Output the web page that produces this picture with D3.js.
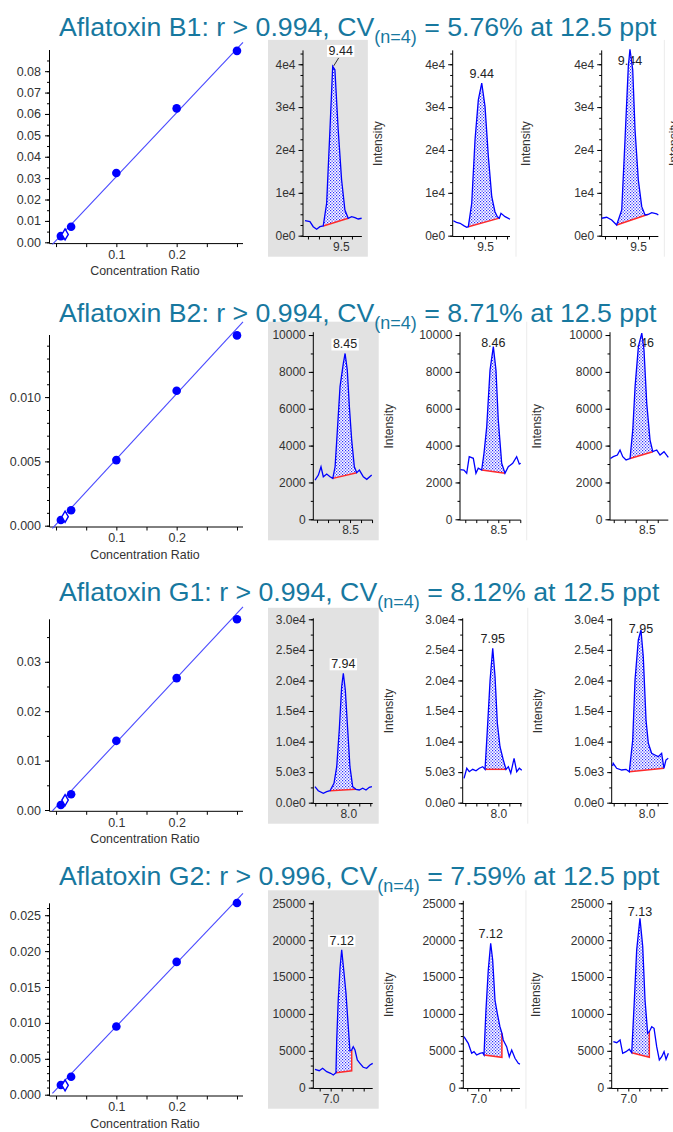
<!DOCTYPE html>
<html>
<head>
<meta charset="utf-8">
<script src="https://cdn.jsdelivr.net/npm/d3@7"></script>
<style>
body { margin: 0; background: #fff; }
svg text { font-family: "Liberation Sans", Arial, sans-serif; }
</style>
</head>
<body>
<svg id="chart" width="673" height="1132"></svg>
<script>
// ---- data ----
var compounds = ["B1", "B2", "G1", "G2"];
var rValues = ["0.994", "0.994", "0.994", "0.996"];
var cvValues = ["5.76%", "8.71%", "8.12%", "7.59%"];
var spikeLevel = "12.5 ppt";

// calibration: concentration ratio vs area ratio
var calConc = [0.008, 0.025, 0.1, 0.2, 0.3];
var calRespB1 = [0.0029, 0.0073, 0.0324, 0.0626, 0.0895];
var calRespB2 = [0.00044, 0.0012, 0.0051, 0.0105, 0.0148];
var calRespG1 = [0.0010, 0.0032, 0.0140, 0.0267, 0.0386];
var calRespG2 = [0.00135, 0.0025, 0.0095, 0.0185, 0.0267];
var qcConc = 0.015;
var qcResp = [0.0037, 0.0007, 0.0020, 0.0013];
var fitSlope = [0.299, 0.0508, 0.1307, 0.0882];
var fitIntercept = [0.0008, 0.0001, 0.0006, 0.0007];
var calYMax = [0.0899, 0.01483, 0.0386, 0.02666];
var calYTicks = [
  [0, 0.01, 0.02, 0.03, 0.04, 0.05, 0.06, 0.07, 0.08],
  [0, 0.005, 0.010],
  [0, 0.01, 0.02, 0.03],
  [0, 0.005, 0.010, 0.015, 0.020, 0.025]
];
var calYDigits = [2, 3, 2, 3];
var calYMinor = [0.005, 0.001, 0.005, 0.001];
var calXTicks = [0, 0.05, 0.1, 0.15, 0.2, 0.25, 0.3];
var calXLabels = [0.1, 0.2];

// chromatograms: [time (min), intensity]
var b1Run1 = [[9.173,3500],[9.218,3270],[9.248,2100],[9.279,1500],[9.309,2100],[9.339,2270],[9.370,7570],[9.400,24700],[9.425,39500],[9.445,38700],[9.475,24700],[9.506,13000],[9.536,6000],[9.566,4070],[9.597,4440],[9.627,4200],[9.657,3900],[9.688,4070]];
var b1Run2 = [[9.212,3500],[9.240,3100],[9.273,2900],[9.310,2300],[9.334,1960],[9.348,2100],[9.379,7570],[9.409,22400],[9.439,31700],[9.470,35600],[9.500,30100],[9.530,18500],[9.561,9100],[9.590,5600],[9.612,4400],[9.630,4100],[9.645,5230],[9.682,4440],[9.727,3830]];
var b1Run3 = [[9.170,4070],[9.215,4300],[9.261,3670],[9.306,2500],[9.352,6000],[9.382,22400],[9.412,39500],[9.427,43500],[9.452,38700],[9.473,24700],[9.503,13000],[9.534,6780],[9.564,4840],[9.594,5000],[9.625,5370],[9.670,5070],[9.685,4840]];
var b2Run1 = [[8.182,2130],[8.212,2400],[8.236,2850],[8.257,2310],[8.288,2460],[8.318,2310],[8.343,2220],[8.364,2850],[8.385,4850],[8.409,7200],[8.439,8460],[8.455,9000],[8.475,8100],[8.494,6110],[8.515,4300],[8.539,2850],[8.561,2530],[8.585,2670],[8.621,2310],[8.652,2170],[8.697,2400]];
var b2Run2 = [[8.155,2700],[8.188,2670],[8.213,2500],[8.236,3400],[8.273,3310],[8.297,2500],[8.318,2770],[8.349,2670],[8.370,3580],[8.395,5020],[8.425,8100],[8.455,9370],[8.479,8100],[8.500,5390],[8.531,3040],[8.561,2500],[8.591,2850],[8.631,3040],[8.667,3400],[8.691,3000],[8.704,3040]];
var b2Run3 = [[8.170,3300],[8.196,3400],[8.233,3490],[8.257,3760],[8.282,3400],[8.312,3220],[8.348,3300],[8.373,4850],[8.394,7200],[8.424,9370],[8.455,10100],[8.475,9190],[8.500,6290],[8.530,4300],[8.555,3670],[8.591,3760],[8.621,3490],[8.657,3670],[8.696,3360]];
var g1Run1 = [[7.697,2620],[7.727,1960],[7.773,1540],[7.804,1800],[7.834,1960],[7.870,3170],[7.895,5890],[7.918,11890],[7.940,18980],[7.955,21170],[7.973,18440],[7.995,11890],[8.015,5890],[8.040,2620],[8.070,2190],[8.100,2080],[8.131,2360],[8.161,2080],[8.191,2520],[8.215,2620]];
var g1Run2 = [[7.688,3990],[7.713,5630],[7.736,5070],[7.767,5460],[7.797,5230],[7.827,5630],[7.858,5890],[7.879,5460],[7.900,11890],[7.925,20070],[7.949,25260],[7.970,20610],[7.991,12990],[8.015,9160],[8.045,6980],[8.070,5460],[8.091,5890],[8.113,4810],[8.143,7260],[8.167,5070],[8.191,5630],[8.213,5300]];
var g1Run3 = [[7.690,6000],[7.696,6440],[7.727,5630],[7.773,5350],[7.812,5460],[7.842,5070],[7.873,10260],[7.894,20070],[7.924,26620],[7.948,28250],[7.969,23890],[7.994,13530],[8.015,9720],[8.045,8080],[8.075,7800],[8.105,7530],[8.136,8080],[8.157,5630],[8.175,6980],[8.196,7260]];
var g2Run1 = [[6.857,2490],[6.896,2300],[6.927,2630],[6.964,2170],[7.000,1950],[7.024,1720],[7.048,2030],[7.055,6500],[7.069,12000],[7.085,16200],[7.100,18700],[7.115,16500],[7.139,12800],[7.160,8270],[7.175,5000],[7.191,5100],[7.205,5560],[7.221,5110],[7.242,3760],[7.266,3310],[7.296,2770],[7.327,2630],[7.357,3080],[7.382,3300]];
var g2Run2 = [[6.870,6910],[6.909,6020],[6.940,4660],[6.961,4880],[6.985,4430],[7.015,4660],[7.040,4750],[7.052,4430],[7.070,10530],[7.091,15960],[7.113,19580],[7.131,17310],[7.152,11890],[7.173,10090],[7.197,8270],[7.215,7380],[7.227,6470],[7.258,5560],[7.282,4200],[7.304,5110],[7.334,3990],[7.364,3310],[7.379,3200]];
var g2Run3 = [[6.864,6240],[6.895,6100],[6.925,6470],[6.949,4660],[6.979,4880],[7.009,5210],[7.031,4750],[7.052,10980],[7.076,18670],[7.106,22970],[7.131,19120],[7.152,11890],[7.176,7380],[7.191,7590],[7.213,8270],[7.234,8050],[7.258,5560],[7.282,3760],[7.304,4200],[7.325,4880],[7.343,3850],[7.364,4660]];

// integration: [start, end, baseline at start, baseline at end]
var b1Peaks = [[9.339,9.566,2270,4070],[9.348,9.630,2100,4100],[9.306,9.594,2500,5000]];
var b2Peaks = [[8.343,8.561,2220,2530],[8.349,8.561,2670,2500],[8.348,8.555,3300,3670]];
var g1Peaks = [[7.834,8.070,1960,2190],[7.879,8.070,5460,5460],[7.842,8.157,5070,5630]];
var g2Peaks = [[7.048,7.191,2030,2300],[7.052,7.215,4430,4120],[7.031,7.191,4750,4120]];

var b1Apex = ["9.44", "9.44", "9.44"];
var b2Apex = ["8.45", "8.46", "8.46"];
var g1Apex = ["7.94", "7.95", "7.95"];
var g2Apex = ["7.12", "7.12", "7.13"];

// visible time window of each run
var b1Windows = [[9.155, 9.69], [9.206, 9.727], [9.170, 9.685]];
var b2Windows = [[8.166, 8.706], [8.152, 8.704], [8.166, 8.696]];
var g1Windows = [[7.682, 8.222], [7.676, 8.213], [7.682, 8.196]];
var g2Windows = [[6.842, 7.382], [6.864, 7.379], [6.849, 7.364]];

var chromYMax = [43000, 10100, 30000, 25200];
var chromYTicks = [
  [0, 10000, 20000, 30000, 40000],
  [0, 2000, 4000, 6000, 8000, 10000],
  [0, 5000, 10000, 15000, 20000, 25000, 30000],
  [0, 5000, 10000, 15000, 20000, 25000]
];
var chromYLabels = [
  ["0e0", "1e4", "2e4", "3e4", "4e4"],
  ["0", "2000", "4000", "6000", "8000", "10000"],
  ["0.0e0", "5.0e3", "1.0e4", "1.5e4", "2.0e4", "2.5e4", "3.0e4"],
  ["0", "5000", "10000", "15000", "20000", "25000"]
];
var chromYMinor = [2500, 1000, 2500, 1000];
var chromXLabel = [9.5, 8.5, 8.0, 7.0];
var chromXLabelText = ["9.5", "8.5", "8.0", "7.0"];

var calResp = [calRespB1, calRespB2, calRespG1, calRespG2];
var runs = [[b1Run1, b1Run2, b1Run3], [b2Run1, b2Run2, b2Run3], [g1Run1, g1Run2, g1Run3], [g2Run1, g2Run2, g2Run3]];
var peaks = [b1Peaks, b2Peaks, g1Peaks, g2Peaks];
var apexLabels = [b1Apex, b2Apex, g1Apex, g2Apex];
var windows = [b1Windows, b2Windows, g1Windows, g2Windows];

// ---- layout ----
var rows = [
  { titleY: 35.5,  calTop: 50,    calZero: 242.3,  chTop: 51.4,  chZero: 235.7,  axisX: [303, 452.7, 601.7] },
  { titleY: 321.5, calTop: 335,   calZero: 525.7,  chTop: 333.2, chZero: 519.3,  axisX: [313.3, 460, 610] },
  { titleY: 600.5, calTop: 619.3, calZero: 810,    chTop: 619.3, chZero: 802.7,  axisX: [313.3, 462.7, 611.7] },
  { titleY: 884.5, calTop: 903.3, calZero: 1094.7, chTop: 901.8, chZero: 1087.7, axisX: [313.3, 463.3, 611.7] }
];
var pxPerMin = 110;
var pageWidth = 673;
var titleColor = "#17789f";
var textColor = "#333";

var svg = d3.select("#chart");

var pat = svg.append("defs").append("pattern")
  .attr("id", "dots").attr("width", 3).attr("height", 3)
  .attr("patternUnits", "userSpaceOnUse");
pat.append("rect").attr("width", 3).attr("height", 3).attr("fill", "#fff");
pat.append("rect").attr("width", 1.2).attr("height", 1.2).attr("fill", "#2b2bff");
pat.append("rect").attr("x", 1.5).attr("y", 1.5).attr("width", 1.2).attr("height", 1.2).attr("fill", "#2b2bff");

function styleAxisText(g, size) {
  g.selectAll("text").attr("font-size", size).attr("fill", textColor)
    .attr("font-family", "Liberation Sans, Arial, sans-serif");
  g.selectAll("line").attr("stroke", "#000");
  g.select(".domain").remove();
}

function drawCalibration(i) {
  var row = rows[i];
  var g = svg.append("g");
  var x = d3.scaleLinear().domain([-0.01, 0.31]).range([50, 243]);
  var y = d3.scaleLinear().domain([0, calYMax[i]]).range([row.calZero, row.calTop]);
  var axisY = row.calZero + 1.3;

  // minor y ticks
  var minor = d3.range(0, Math.floor(calYMax[i] / calYMinor[i] + 1e-6) + 1).map(function (k) { return k * calYMinor[i]; });
  g.append("g").attr("transform", "translate(49.5,0)")
    .call(d3.axisLeft(y).tickValues(minor).tickSize(2.5).tickFormat(""))
    .call(styleAxisText, 12.5);
  g.append("g").attr("transform", "translate(49.5,0)")
    .call(d3.axisLeft(y).tickValues(calYTicks[i]).tickSize(4.5).tickPadding(4)
      .tickFormat(function (d) { return d.toFixed(calYDigits[i]); }))
    .call(styleAxisText, 12.5);
  g.append("g").attr("transform", "translate(0," + axisY + ")")
    .call(d3.axisBottom(x).tickValues(calXTicks).tickSize(3.5).tickPadding(3)
      .tickFormat(function (d) { return calXLabels.indexOf(d) >= 0 ? String(d) : ""; }))
    .call(styleAxisText, 12.5);

  g.append("line").attr("x1", 49.5).attr("x2", 49.5).attr("y1", row.calTop).attr("y2", axisY)
    .attr("stroke", "#000");
  g.append("line").attr("x1", 49.5).attr("x2", 243).attr("y1", axisY).attr("y2", axisY)
    .attr("stroke", "#000");

  g.append("text").attr("x", 145).attr("y", row.calZero + 33)
    .attr("text-anchor", "middle").attr("font-size", 12.4).attr("fill", textColor)
    .text("Concentration Ratio");

  // fitted line
  var lineX = [-0.006, 0.31];
  g.append("path")
    .datum(lineX.map(function (c) { return [c, fitSlope[i] * c + fitIntercept[i]]; }))
    .attr("d", d3.line().x(function (d) { return x(d[0]); }).y(function (d) { return y(d[1]); }))
    .attr("stroke", "#4a4aff").attr("stroke-width", 1.1).attr("fill", "none");

  g.selectAll("circle.cal").data(calConc).enter().append("circle")
    .attr("cx", function (d) { return x(d); })
    .attr("cy", function (d, k) { return y(calResp[i][k]); })
    .attr("r", 4.3).attr("fill", "#0000ff");

  g.append("path")
    .attr("d", d3.symbol(d3.symbolDiamond, 36)())
    .attr("transform", "translate(" + x(qcConc) + "," + y(qcResp[i]) + ")")
    .attr("fill", "#fff").attr("stroke", "#0000ff").attr("stroke-width", 1.4);
}

function drawChrom(i, j) {
  var row = rows[i];
  var g = svg.append("g");
  var win = windows[i][j];
  var x0 = row.axisX[j];
  var w = (win[1] - win[0]) * pxPerMin;
  var x = d3.scaleLinear().domain(win).range([x0, x0 + w]);
  var y = d3.scaleLinear().domain([0, chromYMax[i]]).range([row.chZero, row.chTop]);
  var axisY = row.chZero + 0.8;

  if (j === 0) {
    g.append("rect").attr("x", 268).attr("y", row.chTop - 11.5)
      .attr("width", x0 + w + 6 - 268).attr("height", row.chZero + 21 - (row.chTop - 11.5))
      .attr("fill", "#e2e2e2");
  } else {
    g.append("line").attr("x1", x0 + w + 6).attr("x2", x0 + w + 6)
      .attr("y1", row.chTop - 11.5).attr("y2", row.chZero + 21)
      .attr("stroke", "#ebebeb");
  }

  var minor = d3.range(0, Math.floor(chromYMax[i] / chromYMinor[i]) + 1).map(function (k) { return k * chromYMinor[i]; });
  g.append("g").attr("transform", "translate(" + x0 + ",0)")
    .call(d3.axisLeft(y).tickValues(minor).tickSize(2.5).tickFormat(""))
    .call(styleAxisText, 12);
  g.append("g").attr("transform", "translate(" + x0 + ",0)")
    .call(d3.axisLeft(y).tickValues(chromYTicks[i]).tickSize(4.5).tickPadding(3)
      .tickFormat(function (d, k) { return chromYLabels[i][k]; }))
    .call(styleAxisText, 12);
  var xt = d3.range(Math.ceil(win[0] * 10), Math.floor(win[1] * 10) + 1).map(function (k) { return k / 10; });
  g.append("g").attr("transform", "translate(0," + axisY + ")")
    .call(d3.axisBottom(x).tickValues(xt).tickSize(3).tickPadding(2.5)
      .tickFormat(function (d) { return Math.abs(d - chromXLabel[i]) < 1e-6 ? chromXLabelText[i] : ""; }))
    .call(styleAxisText, 12);
  g.append("line").attr("x1", x0).attr("x2", x0).attr("y1", row.chTop - 1).attr("y2", axisY)
    .attr("stroke", "#000");
  g.append("line").attr("x1", x0).attr("x2", x0 + w).attr("y1", axisY).attr("y2", axisY)
    .attr("stroke", "#000");

  // y title of the following panel sits at the right of this one (only where it reaches the page)
  var ix = x0 + w + 20;
  if (ix - 9 < pageWidth) {
    g.append("text")
      .attr("transform", "translate(" + ix + "," + ((row.chTop + row.chZero) / 2) + ") rotate(-90)")
      .attr("text-anchor", "middle").attr("font-size", 12).attr("fill", textColor)
      .text("Intensity");
  }

  var data = runs[i][j];
  var pk = peaks[i][j];
  var line = d3.line().x(function (d) { return x(d[0]); }).y(function (d) { return y(d[1]); });

  // apex label
  var apex = data.reduce(function (a, b) { return b[1] > a[1] ? b : a; });
  var lx = x(apex[0]), ly = y(apex[1]) - 5;
  var leader = (i === 0 && j === 0);
  if (leader) { lx += 8; ly = y(apex[1]) - 11.5; }
  else if (ly < row.chTop + 14) ly = row.chTop + 14;
  var lab = g.append("g");
  var lt = lab.append("text").attr("x", lx).attr("y", ly).attr("text-anchor", "middle")
    .attr("font-size", 12.5).attr("fill", "#222").text(apexLabels[i][j]);
  var bb = lt.node().getBBox();
  lab.insert("rect", "text").attr("x", bb.x - 1.5).attr("y", bb.y + 1).attr("width", bb.width + 3)
    .attr("height", bb.height - 2).attr("fill", "#fff").attr("opacity", j === 0 ? 1 : 0);
  if (leader) {
    g.append("line").attr("x1", lx - 2).attr("y1", ly + 3).attr("x2", x(apex[0]) + 1).attr("y2", y(apex[1]) - 0.5)
      .attr("stroke", "#333").attr("stroke-width", 1);
  }

  // integrated area
  var inside = data.filter(function (d) { return d[0] >= pk[0] - 1e-9 && d[0] <= pk[1] + 1e-9; });
  var poly = inside.concat([[pk[1], pk[3]], [pk[0], pk[2]]]);
  g.append("path").attr("d", line(poly) + "Z").attr("fill", "url(#dots)").attr("stroke", "none");

  var endVal = inside[inside.length - 1][1];
  g.append("path")
    .attr("d", line([[pk[0], pk[2]], [pk[1], pk[3]], [pk[1], endVal]]))
    .attr("stroke", "#ff2a2a").attr("stroke-width", 1.5).attr("fill", "none");

  g.append("path").datum(data).attr("d", line)
    .attr("stroke", "#0000ff").attr("stroke-width", 1.3).attr("fill", "none");
}

compounds.forEach(function (name, i) {
  drawCalibration(i);
  [0, 1, 2].forEach(function (j) { drawChrom(i, j); });

  var t = svg.append("text").attr("x", 59).attr("y", rows[i].titleY)
    .attr("font-size", 26.7).attr("fill", titleColor);
  t.append("tspan").text("Aflatoxin " + name + ": r > " + rValues[i] + ", CV");
  t.append("tspan").attr("font-size", 18).attr("dy", 7).text("(n=4)");
  t.append("tspan").attr("dy", -7).text(" = " + cvValues[i] + " at " + spikeLevel);
});
</script>
</body>
</html>
